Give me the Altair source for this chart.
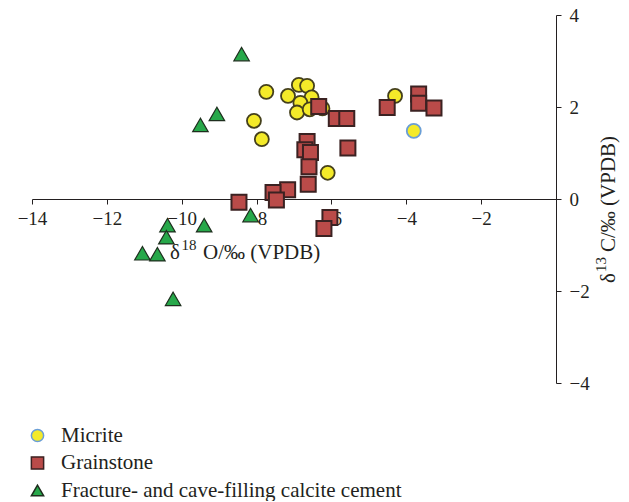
import altair as alt
import pandas as pd

types = ["Micrite", "Grainstone", "Fracture- and cave-filling calcite cement"]

micrite_d18O = [-7.74, -6.87, -6.65, -7.16, -6.53, -6.83, -6.92, -6.58, -6.24, -8.07, -7.86, -6.10, -4.30, -3.80]
micrite_d13C = [2.33, 2.48, 2.46, 2.24, 2.21, 2.09, 1.88, 1.95, 1.97, 1.70, 1.30, 0.57, 2.24, 1.48]

grain_d18O = [-6.34, -5.87, -5.59, -6.65, -6.71, -6.56, -6.60, -5.56, -6.62, -7.17, -7.56, -7.47, -8.47, -6.04, -6.20, -4.51, -3.67, -3.67, -3.26]
grain_d13C = [2.01, 1.75, 1.75, 1.25, 1.07, 1.01, 0.70, 1.11, 0.32, 0.20, 0.14, -0.02, -0.07, -0.40, -0.64, 1.99, 2.28, 2.08, 1.98]

cement_d18O = [-8.40, -9.06, -9.50, -10.38, -10.41, -9.40, -11.05, -10.65, -10.23, -8.16]
cement_d13C = [3.15, 1.85, 1.61, -0.57, -0.83, -0.57, -1.18, -1.20, -2.17, -0.35]

x_ticks = [-14, -12, -10, -8, -6, -4, -2]
y_ticks = [-4, -2, 0, 2, 4]

x_title = ["δ", "18", "O/‰ (VPDB)"]
y_title = ["δ", "13", "C/‰ (VPDB)"]

rows = []
for t, xs, ys in zip(types, [micrite_d18O, grain_d18O, cement_d18O], [micrite_d13C, grain_d13C, cement_d13C]):
    for xv, yv in zip(xs, ys):
        rows.append({"type": t, "d18O": xv, "d13C": yv})
df = pd.DataFrame(rows)

FONT = "Liberation Serif"
TXT = "#231f20"
fills = ["#f4ea29", "#ba4b49", "#27a84a"]
legend_strokes = ["#6a9ed6", "#3b2222", "#1e2e1e"]
MICRITE_EDGE = "#45401c"

legend = alt.Legend(
    title=None, orient="none", legendX=-5, legendY=410,
    labelFont=FONT, labelFontSize=21, labelColor=TXT, labelLimit=500,
    symbolSize=150, symbolStrokeWidth=1.5, labelOffset=13, rowPadding=5.5,
)

X = alt.X("d18O:Q",
          scale=alt.Scale(domain=[-14, 0], nice=False, zero=False),
          axis=alt.Axis(orient="bottom", offset=-184, values=x_ticks, grid=False, title=None,
                        labelFont=FONT, labelFontSize=19, labelColor=TXT, labelFlush=False,
                        labelPadding=5, tickSize=5, tickColor=TXT, domainColor=TXT,
                        labelOverlap=False))
Y = alt.Y("d13C:Q",
          scale=alt.Scale(domain=[-4, 4], nice=False, zero=False),
          axis=alt.Axis(orient="right", values=y_ticks, grid=False, title=None,
                        labelFont=FONT, labelFontSize=19, labelColor=TXT, labelFlush=False,
                        labelPadding=8, tickSize=5, tickColor=TXT, domainColor=TXT,
                        labelOverlap=False))
FILL = alt.Fill("type:N", scale=alt.Scale(domain=types, range=fills), legend=legend)
SHAPE = alt.Shape("type:N", scale=alt.Scale(domain=types, range=["circle", "square", "triangle-up"]), legend=legend)
STROKE = alt.condition("datum.type === 'Micrite' && datum.d18O <= -4",
                       alt.value(MICRITE_EDGE),
                       alt.Stroke("type:N", scale=alt.Scale(domain=types, range=legend_strokes), legend=legend))

def series(t, size, sw):
    return alt.Chart(df).transform_filter(alt.datum.type == t).mark_point(
        filled=True, opacity=1, size=size, strokeWidth=sw
    ).encode(x=X, y=Y, fill=FILL, shape=SHAPE, stroke=STROKE)

points = [series(types[0], 196, 1.8), series(types[1], 225, 2.0), series(types[2], 240, 1.2)]

one = pd.DataFrame({"k": [0]})

def txt(s, x, y, size, angle=0):
    return alt.Chart(one).mark_text(
        text=s, font=FONT, fontSize=size, color=TXT, align="left",
        baseline="alphabetic", angle=angle,
    ).encode(x=alt.value(x), y=alt.value(y))

titles = [
    txt(x_title[0], 138, 244, 21),
    txt(x_title[1], 149.5, 235, 15),
    txt(x_title[2], 171, 244, 21),
    txt(y_title[0], 583, 268, 21, angle=270),
    txt(y_title[1], 574, 257, 15, angle=270),
    txt(y_title[2], 583, 237, 21, angle=270),
]

chart = alt.layer(*points, *titles).properties(
    width=524, height=368,
    autosize=alt.AutoSizeParams(type="none"),
    padding={"left": 24, "top": 7, "right": 65, "bottom": 118},
).configure(background="white").configure_view(stroke=None)

chart.save("out.html", embed_options={"renderer": "svg", "actions": False})
